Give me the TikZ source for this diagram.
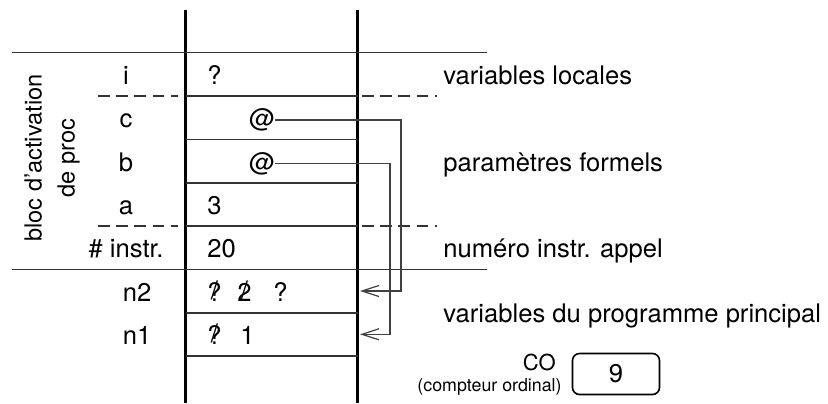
\documentclass[tikz,border=0pt]{standalone}
\usepackage{fontspec}
\setmainfont{TeX Gyre Heros}
\usetikzlibrary{arrows.meta}

\newcommand{\bigtxt}{\fontsize{12.8}{15}\selectfont}
\newcommand{\midtxt}{\fontsize{11.8}{16.5}\selectfont}
\newcommand{\cotxt}{\fontsize{11}{13}\selectfont}
\newcommand{\smalltxt}{\fontsize{8.9}{10}\selectfont}
\newcommand{\barre}[1]{\ooalign{#1\cr\hidewidth\raisebox{0.1ex}{/}\hidewidth}}

\begin{document}
\begin{tikzpicture}
	[x=0.5pt,y=-0.5pt,
	wall/.style={draw=black,line width=1.5pt},
	sep/.style={draw=black!80,line width=0.8pt},
	bound/.style={draw=black!80,line width=0.7pt},
	cut/.style={draw=black!80,line width=0.7pt,dash pattern=on 5.8pt off 3.3pt},
	rowname/.style={anchor=base,inner sep=0pt,font=\bigtxt},
	value/.style={anchor=base west,inner sep=0pt,font=\bigtxt},
	comment/.style={anchor=base west,inner sep=0pt,font=\bigtxt},
	ptr/.style={draw=black!75,line width=0.6pt,-{Straight Barb[length=8.5pt,width=5.5pt]}},
	counter/.style={draw=black,line width=0.8pt,rounded corners=3.5pt,minimum width=43.5pt,minimum height=20.5pt,font=\bigtxt}]

	\useasboundingbox (0,0) rectangle (828,403);

	% Draw the stack frame
	\draw[wall] (185.5,10) -- (185.5,403)
	            (357.5,10) -- (357.5,403);
	\foreach \y in {96,139.3,182.7,226,312.7,356}
		\draw[sep] (185.5,\y) -- (357.5,\y);
	\foreach \y in {52.3,269.3}
		\draw[bound] (12,\y) -- (487,\y);
	\foreach \y in {52.3,96,226}
		\draw[cut] (98,\y) -- (178,\y) (362,\y) -- (437,\y);

	% Draw the variable names
	\draw node at (126,84) [rowname](ni){i}
		node at (126,127.6) [rowname](nc){c}
		node at (126,171) [rowname](nb){b}
		node at (126,214.3) [rowname](na){a}
		node at (126,257.6) [rowname](ninstr){\# instr.}
		node at (137,301) [rowname](nn2){n2}
		node at (137,344.3) [rowname](nn1){n1};

	% Draw the cell contents
	\draw node at (207,84) [value](vi){?}
		node at (262,127.6) [rowname](atc){@}
		node at (262,171) [rowname](atb){@}
		node at (207,214.3) [value](va){3}
		node at (207,257.6) [value](vinstr){20}
		node at (207,301) [value](vnA){\barre{?}}
		node at (237,301) [value](vnB){\barre{2}}
		node at (273,301) [value](vnC){?}
		node at (207,344.3) [value](vmA){\barre{?}}
		node at (240,344.3) [value](vmB){1};

	% Draw the pointers
	\coordinate (n2in) at (360,291);
	\coordinate (n1in) at (360,334.3);
	\draw[ptr] (atc.east) -| (401,200) |- (n2in);
	\draw[ptr] (atb.east) -| (390,250) |- (n1in);

	% Draw the comments
	\draw node at (443,84.5) [comment](clocal){variables locales}
		node at (443,171) [comment](cparam){paramètres formels}
		node at (443,257.5) [comment](cinstr){numéro instr. appel}
		node at (443,322.5) [comment](cmain){variables du programme principal};

	\node[rotate=90,align=center,font=\midtxt] (frame) at (52,158) {bloc d'activation\\de proc};

	% Draw the program counter
	\node[counter] (co) at (616,374) {9};
	\node[anchor=base east,inner sep=0pt,font=\cotxt] (colbl) at (556,370) {CO};
	\node[anchor=base east,inner sep=0pt,font=\smalltxt] (ordlbl) at (562,391) {(compteur ordinal)};
\end{tikzpicture}
\end{document}
